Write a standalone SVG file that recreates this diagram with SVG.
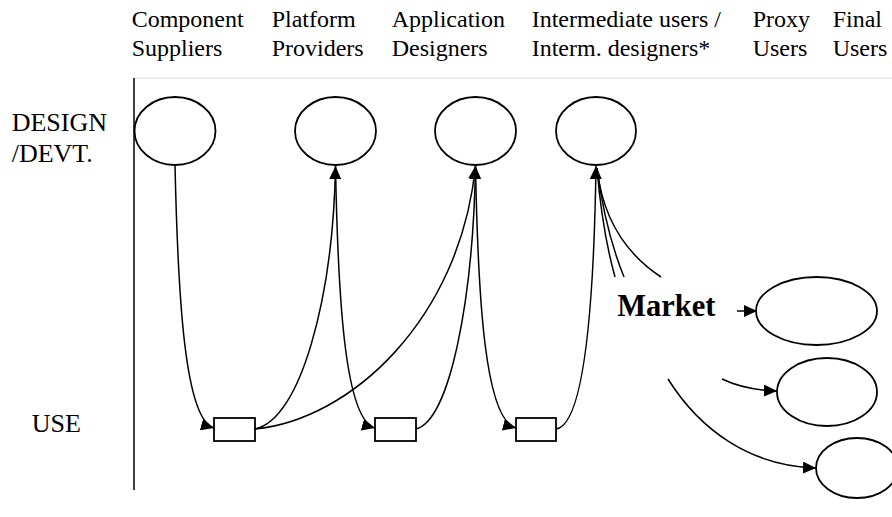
<svg xmlns="http://www.w3.org/2000/svg" width="892" height="517" viewBox="0 0 892 517">
<style>
.h{font-family:"Liberation Serif","Times New Roman",serif;font-size:24px;fill:#000}
.l{font-family:"Liberation Serif","Times New Roman",serif;font-size:26px;fill:#000}
.m{font-family:"Liberation Serif","Times New Roman",serif;font-size:30.5px;font-weight:bold;fill:#000}
.n{fill:#fff;stroke:#000;stroke-width:1.8}
.c{fill:none;stroke:#000;stroke-width:1.5}
</style>
<defs>
<marker id="ah" markerUnits="userSpaceOnUse" markerWidth="14" markerHeight="12" refX="13" refY="6" orient="auto">
<path d="M0,0 L13,6 L0,12 Z" fill="#000"/>
</marker>
</defs>
<rect width="892" height="517" fill="#fff"/>
<g id="headers">
<text class="h" x="131.7" y="27">Component</text>
<text class="h" x="131.7" y="56">Suppliers</text>
<text class="h" x="271.7" y="27">Platform</text>
<text class="h" x="271.7" y="56">Providers</text>
<text class="h" x="391.7" y="27">Application</text>
<text class="h" x="391.7" y="56">Designers</text>
<text class="h" x="531.7" y="27">Intermediate users /</text>
<text class="h" x="531.7" y="56">Interm. designers*</text>
<text class="h" x="752.7" y="27">Proxy</text>
<text class="h" x="752.7" y="56">Users</text>
<text class="h" x="832.7" y="27">Final</text>
<text class="h" x="832.7" y="56">Users</text>
</g>
<g id="rows">
<text class="l" x="11.7" y="131">DESIGN</text>
<text class="l" x="11.7" y="162">/DEVT.</text>
<text class="l" x="31.7" y="432">USE</text>
</g>
<g id="axes">
<line x1="134" y1="78" x2="892" y2="78" stroke="#dcdcdc" stroke-width="1"/>
<line x1="134" y1="78" x2="134" y2="490" stroke="#000" stroke-width="1.5"/>
</g>
<g id="connectors">
<path class="c" d="M175,165 C178,300 185,420 214,428" marker-end="url(#ah)"/>
<path class="c" d="M255,429 C300,420 333,300 335.5,166" marker-end="url(#ah)"/>
<path class="c" d="M255,429 C350,420 460,320 475.5,166" marker-end="url(#ah)"/>
<path class="c" d="M335.5,166 C338,300 345,420 375,428" marker-end="url(#ah)"/>
<path class="c" d="M416,429 C450,420 473,300 475.5,166" marker-end="url(#ah)"/>
<path class="c" d="M475.5,166 C478,300 485,420 516,428" marker-end="url(#ah)"/>
<path class="c" d="M556,429 C585,425 594,300 596,166" marker-end="url(#ah)"/>
<path class="c" d="M597,168 Q602,230 615,277"/>
<path class="c" d="M597,168 Q605,230 624,277"/>
<path class="c" d="M597,168 Q605,240 661,277"/>
<path class="c" d="M737,311 L757,311" marker-end="url(#ah)"/>
<path class="c" d="M722,379 Q745,390 777,391" marker-end="url(#ah)"/>
<path class="c" d="M668,379 C700,430 750,466 816,468" marker-end="url(#ah)"/>
</g>
<g id="n1"><ellipse class="n" cx="175" cy="131" rx="40.5" ry="34"/></g>
<g id="n2"><ellipse class="n" cx="335.5" cy="131" rx="40.5" ry="34"/></g>
<g id="n3"><ellipse class="n" cx="475.5" cy="131" rx="40.5" ry="34"/></g>
<g id="n4"><ellipse class="n" cx="596" cy="131" rx="40" ry="34"/></g>
<g id="r1"><rect class="n" x="214" y="418" width="41" height="23"/></g>
<g id="r2"><rect class="n" x="375" y="418" width="41" height="23"/></g>
<g id="r3"><rect class="n" x="516" y="418" width="40" height="23"/></g>
<g id="market"><text class="m" x="617.3" y="316">Market</text></g>
<g id="n5"><ellipse class="n" cx="816.5" cy="311" rx="60.5" ry="34"/></g>
<g id="n6"><ellipse class="n" cx="827" cy="392" rx="50" ry="34"/></g>
<g id="n7"><ellipse class="n" cx="857" cy="468" rx="41" ry="30"/></g>
</svg>
